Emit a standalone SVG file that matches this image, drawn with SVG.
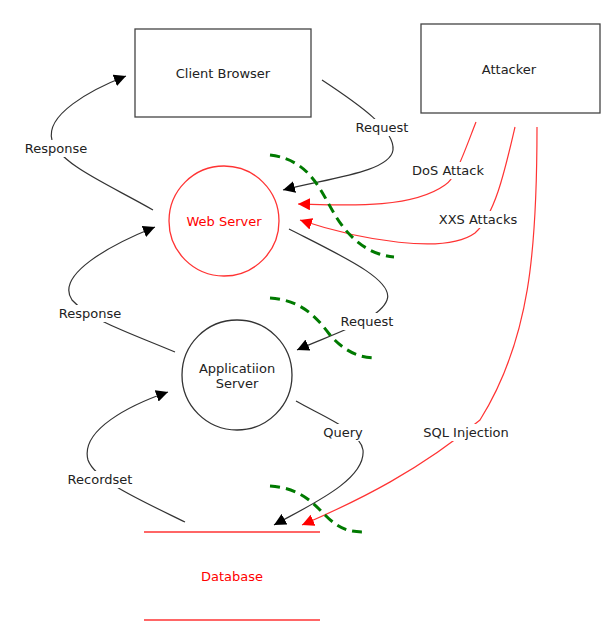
<svg xmlns="http://www.w3.org/2000/svg" width="605" height="623" viewBox="0 0 605 623">
<defs>
<marker id="ab" viewBox="0 0 10 10" refX="10" refY="5" markerWidth="12" markerHeight="12" markerUnits="userSpaceOnUse" orient="auto"><path d="M0,0 L10,5 L0,10 z" fill="#000"/></marker>
<marker id="ar" viewBox="0 0 10 10" refX="10" refY="5" markerWidth="12" markerHeight="12" markerUnits="userSpaceOnUse" orient="auto"><path d="M0,0 L10,5 L0,10 z" fill="#ff0000"/></marker>
</defs>
<style>
text{font-family:"DejaVu Sans","Open Sans",sans-serif;font-size:13px;text-anchor:middle;dominant-baseline:central;fill:#222}
.red{fill:#ff0000}
.box{fill:#fff;stroke:#444;stroke-width:1.3}
.cb{fill:none;stroke:#333;stroke-width:1.2;marker-end:url(#ab)}
.cr{fill:none;stroke:#ff3333;stroke-width:1.2;marker-end:url(#ar)}
.gd{fill:none;stroke:#007a00;stroke-width:3;stroke-dasharray:10 6}
.lb{fill:#fff}
</style>
<rect width="605" height="623" fill="#fff"/>
<g id="connectors">
<path class="cb" d="M322,80 C360,105 395,130 393,150 C390,172 330,178 283,190"/>
<path class="cb" d="M153,210 C110,185 60,165 52,140 C45,115 90,90 126,76"/>
<path class="cb" d="M175,352 C130,333 90,320 72,300 C55,275 110,245 155,227"/>
<path class="cb" d="M289,229 C340,255 395,280 387,300 C380,320 330,335 297,350"/>
<path class="cb" d="M296,401 C320,415 360,430 363,450 C366,480 310,505 274,525"/>
<path class="cb" d="M185,522 C140,500 95,480 88,460 C80,430 130,405 168,392"/>
<path class="cr" d="M476,122 C465,150 455,180 445,185 C410,210 340,205 298,204"/>
<path class="cr" d="M515,127 C505,170 495,215 475,233 C445,255 360,240 300,220"/>
<path class="cr" d="M537,127 C537,250 530,340 480,420 C420,470 360,500 302,525"/>
<rect class="lb" x="23" y="140" width="66" height="17"/>
<text x="56" y="148">Response</text>
<rect class="lb" x="353" y="119" width="59" height="17"/>
<text x="382" y="127">Request</text>
<rect class="lb" x="411" y="162" width="74" height="17"/>
<text x="448" y="170">DoS Attack</text>
<rect class="lb" x="435" y="211" width="86" height="17"/>
<text x="478" y="219">XXS Attacks</text>
<rect class="lb" x="57" y="305" width="66" height="17"/>
<text x="90" y="313">Response</text>
<rect class="lb" x="338" y="313" width="59" height="17"/>
<text x="367" y="321">Request</text>
<rect class="lb" x="320" y="424" width="46" height="17"/>
<text x="343" y="432">Query</text>
<rect class="lb" x="419" y="424" width="94" height="17"/>
<text x="466" y="432">SQL Injection</text>
<rect class="lb" x="65" y="471" width="70" height="17"/>
<text x="100" y="479">Recordset</text>
<path class="gd" d="M270,155 C310,160 320,190 335,215 C350,240 370,255 394,257"/>
<path class="gd" d="M270,298 C300,300 315,315 330,335 C345,352 360,358 376,358"/>
<path class="gd" d="M270,486 C300,488 312,502 325,515 C340,530 350,532 365,532"/>
</g>
<g id="client-browser">
<rect class="box" x="135" y="29" width="176" height="88"/>
<text x="223" y="73">Client Browser</text>
</g>
<g id="attacker">
<rect class="box" x="421" y="24" width="179" height="89"/>
<text x="509" y="69">Attacker</text>
</g>
<g id="web-server">
<circle cx="224" cy="221" r="55" fill="none" stroke="#ff3333" stroke-width="1.3"/>
<text class="red" x="224" y="221">Web Server</text>
</g>
<g id="application-server">
<circle cx="237" cy="375" r="55" fill="none" stroke="#333" stroke-width="1.3"/>
<text x="237" y="368">Applicatiion</text>
<text x="237" y="383">Server</text>
</g>
<g id="database">
<line x1="144" y1="532" x2="320" y2="532" stroke="#ff3333" stroke-width="1.3"/>
<line x1="144" y1="620" x2="320" y2="620" stroke="#ff3333" stroke-width="1.3"/>
<text class="red" x="232" y="576">Database</text>
</g>
</svg>
